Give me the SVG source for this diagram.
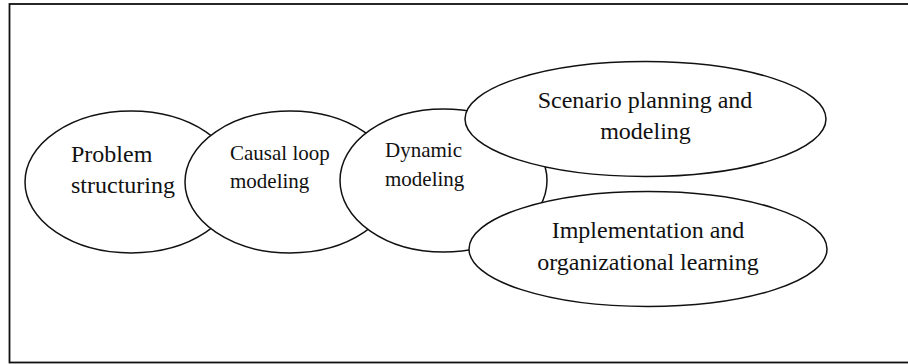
<svg xmlns="http://www.w3.org/2000/svg" width="908" height="364" viewBox="0 0 908 364">
  <style>
    .frame { fill: #ffffff; stroke: #111111; stroke-width: 1.8; }
    .stage { fill: #ffffff; stroke: #111111; stroke-width: 1.5; }
    .lbl { font-family: "Liberation Serif", "Times New Roman", serif; fill: #111111; }
    .big { font-size: 24px; }
    .small { font-size: 21px; }
    .mid { text-anchor: middle; }
  </style>
  <rect x="0" y="0" width="908" height="364" fill="#ffffff"/>
  <!-- outer frame; its right side runs past the canvas edge -->
  <rect class="frame" x="9.5" y="4" width="910" height="358.5"/>

  <g id="connectors"/>

  <g id="problem-structuring">
    <ellipse class="stage" cx="131" cy="182" rx="106" ry="71"/>
    <text class="lbl big" x="71" y="162">Problem</text>
    <text class="lbl big" x="71" y="192.5">structuring</text>
  </g>

  <g id="causal-loop-modeling">
    <ellipse class="stage" cx="290" cy="182" rx="105" ry="71"/>
    <text class="lbl small" x="230" y="159.5">Causal loop</text>
    <text class="lbl small" x="230" y="188">modeling</text>
  </g>

  <g id="dynamic-modeling">
    <ellipse class="stage" cx="443.5" cy="180.5" rx="103.5" ry="71.5"/>
    <text class="lbl small" x="385" y="157">Dynamic</text>
    <text class="lbl small" x="385" y="186">modeling</text>
  </g>

  <g id="scenario-planning">
    <ellipse class="stage" cx="645.5" cy="119" rx="180.5" ry="57.5"/>
    <text class="lbl big mid" x="645" y="107.5">Scenario planning and</text>
    <text class="lbl big mid" x="645.5" y="138.5">modeling</text>
  </g>

  <g id="implementation-learning">
    <ellipse class="stage" cx="648" cy="249" rx="179" ry="57.5"/>
    <text class="lbl big mid" x="648" y="237.5">Implementation and</text>
    <text class="lbl big mid" x="648" y="269.5">organizational learning</text>
  </g>
</svg>
